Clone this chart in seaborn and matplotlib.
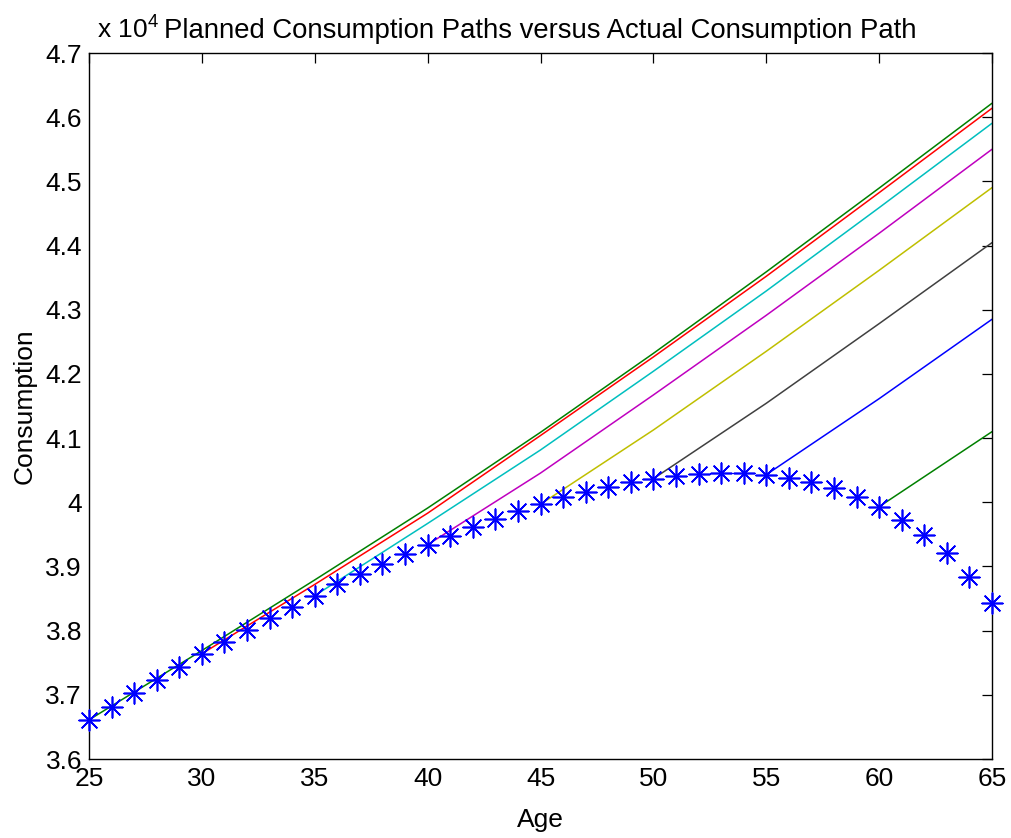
import matplotlib
matplotlib.use("Agg")
import matplotlib.pyplot as plt
import matplotlib.ticker as mticker
import seaborn as sns
import pandas as pd

# ---- data ----
ages = list(range(25, 66))
actual = [36610, 36815, 37024, 37231, 37438, 37640, 37818, 38010, 38202, 38373,
          38545, 38722, 38878, 39043, 39199, 39339, 39475, 39620, 39739, 39864,
          39969, 40078, 40160, 40243, 40311, 40367, 40414, 40445, 40461, 40452,
          40430, 40383, 40311, 40218, 40087, 39931, 39724, 39490, 39205, 38840,
          38426]

plan_starts = [25, 30, 35, 40, 45, 50, 55, 60]
plan_25 = [36610, 37690, 38790, 39910, 41090, 42320, 43590, 44895, 46217]
plan_30 = [37640, 38720, 39830, 41040, 42264, 43521, 44824, 46139]
plan_35 = [38545, 39670, 40815, 42041, 43292, 44590, 45905]
plan_40 = [39339, 40455, 41672, 42913, 44191, 45500]
plan_45 = [39969, 41126, 42352, 43614, 44902]
plan_50 = [40367, 41542, 42783, 44045]
plan_55 = [40430, 41614, 42851]
plan_60 = [39931, 41100]
plans = [plan_25, plan_30, plan_35, plan_40, plan_45, plan_50, plan_55, plan_60]
plan_colors = ["#008000", "#ff0000", "#00bfbf", "#bf00bf",
               "#bfbf00", "#404040", "#0000ff", "#008000"]

x_ticks = [25, 30, 35, 40, 45, 50, 55, 60, 65]
y_ticks = [36000, 37000, 38000, 39000, 40000, 41000, 42000, 43000, 44000,
           45000, 46000, 47000]

title = "Planned Consumption Paths versus Actual Consumption Path"

# ---- build tables ----
rows = []
for s, vals in zip(plan_starts, plans):
    for i, v in enumerate(vals):
        rows.append({"age": s + 5 * i, "consumption": v, "start": s})
plan_df = pd.DataFrame(rows)
act_df = pd.DataFrame({"age": ages, "consumption": actual})

# ---- style ----
sns.set_style("white")
plt.rcParams["font.family"] = ["Liberation Sans", "DejaVu Sans"]
plt.rcParams["mathtext.fontset"] = "custom"
plt.rcParams["mathtext.rm"] = "Liberation Sans"
plt.rcParams["mathtext.it"] = "Liberation Sans:italic"
for k in ["text.color", "axes.labelcolor", "xtick.color", "ytick.color"]:
    plt.rcParams[k] = "black"

fig = plt.figure(figsize=(10.12, 8.38), dpi=100)
ax = fig.add_axes([89 / 1012, 1 - 759 / 838, (992 - 89) / 1012, (759 - 53) / 838])

palette = {s: c for s, c in zip(plan_starts, plan_colors)}
sns.lineplot(data=plan_df, x="age", y="consumption", hue="start", units="start",
             estimator=None, palette=palette, linewidth=1.1, legend=False, ax=ax)

sns.scatterplot(data=act_df, x="age", y="consumption", marker=(8, 2, 0), s=220,
                color="#0000ff", linewidth=1.2, ax=ax, zorder=5, clip_on=False)

ax.set_xlim(25, 65)
ax.set_ylim(36000, 47000)
ax.set_xticks(x_ticks)
ax.set_yticks(y_ticks)
ax.yaxis.set_major_formatter(mticker.FuncFormatter(lambda v, p: f"{round(v / 1e4, 2):g}"))

for sp in ax.spines.values():
    sp.set_visible(True)
    sp.set_color("black")
    sp.set_linewidth(1.0)

ax.tick_params(direction="in", top=True, right=True, length=7, width=0.9,
               labelsize=19, colors="black")
ax.tick_params(axis="x", pad=6)
ax.tick_params(axis="y", pad=5)

ax.set_xlabel("Age", fontsize=19, labelpad=12)
ax.set_ylabel("Consumption", fontsize=19, labelpad=6)
ax.set_title(title, fontsize=19.8, pad=11)
ax.text(0.009, 1.014, r"x 10$^{4}$", transform=ax.transAxes, fontsize=19,
        ha="left", va="bottom")

fig.savefig("out.png", dpi=100)
